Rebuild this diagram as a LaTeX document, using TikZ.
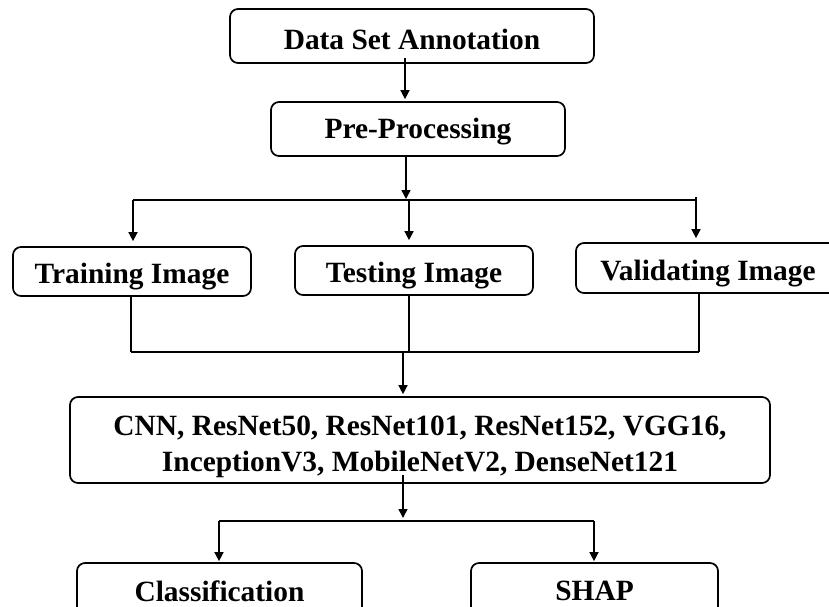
\documentclass[tikz,border=0pt]{standalone}
\usepackage{fontspec}
\setmainfont{Liberation Serif}
\usetikzlibrary{arrows.meta,calc}
\begin{document}
\begin{tikzpicture}[x=1pt,y=-1pt,
  box/.style={draw=black,line width=1.7pt,rounded corners=8pt,rectangle,inner sep=0pt},
  txt/.style={inner sep=0pt,font=\fontsize{29.4}{36}\selectfont\bfseries,align=center},
  conn/.style={line width=1.5pt},
  arr/.style={conn,-{Triangle[length=9pt,width=9pt]}}]
\useasboundingbox[fill=white] (0,0) rectangle (829,606);
% nodes
\node[box,minimum width=364pt,minimum height=54pt,
  label={[txt,yshift=-3pt]center:Data Set Annotation}] (dsa) at (412,36) {};
\node[box,minimum width=294pt,minimum height=54pt,
  label={[txt,yshift=-3pt]center:Pre-Processing}] (pre) at (418,129) {};
\node[box,minimum width=238pt,minimum height=49pt,
  label={[txt,yshift=-5pt]center:Training Image}] (train) at (132,271.5) {};
\node[box,minimum width=238pt,minimum height=49pt,
  label={[txt,yshift=-5pt]center:Testing Image}] (test) at (414,270.5) {};
\node[box,minimum width=264pt,minimum height=50pt,
  label={[txt,yshift=-5.5pt]center:Validating Image}] (val) at (708,268) {};
\node[box,minimum width=700pt,minimum height=86pt,
  label={[txt,yshift=-7pt]center:{CNN, ResNet50, ResNet101, ResNet152, VGG16,\\InceptionV3, MobileNetV2, DenseNet121}}] (big) at (420,440) {};
\node[box,minimum width=285pt,minimum height=56pt,
  label={[txt]center:Classification}] (cls) at (219.5,591) {};
\node[box,minimum width=247pt,minimum height=56pt,
  label={[txt]center:SHAP}] (shap) at (594.5,591) {};
% coordinates
\coordinate (a1) at (405,58);
\coordinate (s0) at (406,200);
\coordinate (s1) at (133,200);
\coordinate (s2) at (409,200);
\coordinate (s3) at (696,200);
\coordinate (m1) at (131,352);
\coordinate (m2) at (409,352);
\coordinate (m3) at (699,352);
\coordinate (m0) at (403,352);
\coordinate (c0) at (403,475);
\coordinate (c1) at (403,518);
\coordinate (b1) at (219,521);
\coordinate (b2) at (594,521);
% connectors
\draw[arr,shorten >=2pt] (a1) -- (a1 |- pre.north);
\draw[arr,shorten >=1pt] (pre.south -| s0) -- (s0);
\draw[conn,line width=2pt] (s1) -- (s3);
\draw[arr,shorten >=5pt] (s1) -- (s1 |- train.north);
\draw[arr,shorten >=5pt] (s2) -- (s2 |- test.north);
\draw[arr,shorten >=4pt] ($(s3)+(0,-3)$) -- (s3 |- val.north);
\draw[conn] (train.south -| m1) -- (m1);
\draw[conn] (test.south -| m2) -- (m2);
\draw[conn] (val.south -| m3) -- (m3);
\draw[conn,line width=2pt] (m1) -- (m3);
\draw[arr,shorten >=2pt] (m0) -- (m0 |- big.north);
\draw[arr] (c0) -- (c1);
\draw[conn,line width=2pt] (b1) -- (b2);
\draw[arr,shorten >=1pt] (b1) -- (b1 |- cls.north);
\draw[arr,shorten >=1pt] (b2) -- (b2 |- shap.north);
\end{tikzpicture}
\end{document}
